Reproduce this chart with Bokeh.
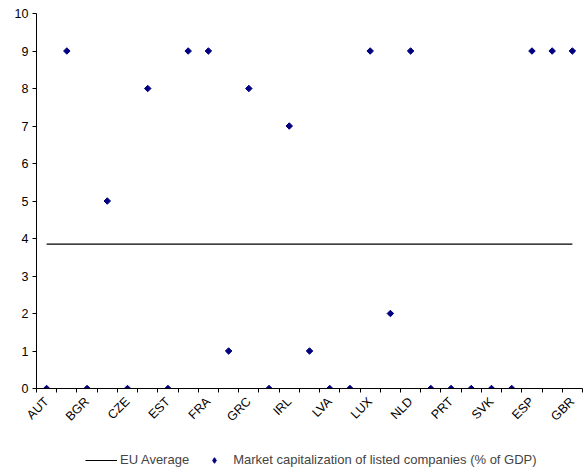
import math
from bokeh.plotting import figure
from bokeh.layouts import column
from bokeh.models import FixedTicker, Legend, LegendItem, Range1d
from bokeh.embed import file_html
from bokeh.resources import INLINE

countries = ["AUT", "BEL", "BGR", "CYP", "CZE", "DNK", "EST", "FIN", "FRA", "DEU",
             "GRC", "HUN", "IRL", "ITA", "LVA", "LTU", "LUX", "MLT", "NLD", "POL",
             "PRT", "ROU", "SVK", "SVN", "ESP", "SWE", "GBR"]
market_cap = [0, 9, 0, 5, 0, 8, 0, 9, 9, 1,
              8, 0, 7, 1, 0, 0, 9, 2, 9, 0,
              0, 0, 0, 0, 9, 9, 9]
eu_average = [3.85, 3.85]
y_ticks = list(range(0, 11))

n = len(countries)
xs = [i + 0.5 for i in range(n)]
FONT = "Liberation Sans"
NAVY = "#000080"

p = figure(width=588, height=436, output_backend="svg", toolbar_location=None,
           x_range=Range1d(0, n), y_range=Range1d(0, 10),
           min_border_left=36, min_border_right=6, min_border_top=13, min_border_bottom=48)
p.outline_line_color = None
p.grid.visible = False

p.line(x=[xs[0], xs[-1]], y=eu_average, line_color="black", line_width=1.2)
p.scatter(x=xs, y=market_cap, marker="square", angle=math.pi / 4, size=4.6,
          fill_color=NAVY, line_color=NAVY, line_width=1)

# x axis
label_pos = [xs[i] for i in range(0, n, 2)]
p.xaxis.ticker = FixedTicker(ticks=label_pos, minor_ticks=list(range(0, n + 1)))
p.xaxis.major_label_overrides = {xs[i]: countries[i] for i in range(0, n, 2)}
p.xaxis.major_label_orientation = math.pi / 4
p.xaxis.major_tick_out = 0
p.xaxis.major_tick_in = 0
p.xaxis.minor_tick_out = 4
p.xaxis.minor_tick_in = 0
p.xaxis.axis_line_color = "black"
p.xaxis.minor_tick_line_color = "black"
p.xaxis.major_label_text_font = FONT
p.xaxis.major_label_text_font_size = "12.5px"
p.xaxis.major_label_text_color = "black"
p.xaxis.major_label_standoff = 7

# y axis
p.yaxis.ticker = FixedTicker(ticks=y_ticks)
p.yaxis.major_tick_out = 4
p.yaxis.major_tick_in = 0
p.yaxis.minor_tick_line_color = None
p.yaxis.axis_line_color = "black"
p.yaxis.major_tick_line_color = "black"
p.yaxis.major_label_text_font = FONT
p.yaxis.major_label_text_font_size = "12.5px"
p.yaxis.major_label_text_color = "black"
p.yaxis.major_label_standoff = 4

# legend strip
lg = figure(width=588, height=37, output_backend="svg", toolbar_location=None,
            x_range=Range1d(100, 101), y_range=Range1d(100, 101),
            min_border=0, min_border_left=0, min_border_right=0,
            min_border_top=0, min_border_bottom=0)
lg.outline_line_color = None
lg.axis.visible = False
lg.grid.visible = False
l1 = lg.line(x=[xs[0], xs[-1]], y=eu_average, line_color="black", line_width=1.2)
l2 = lg.scatter(x=xs, y=market_cap, marker="diamond", size=9,
                fill_color=NAVY, line_color=NAVY, line_width=1)
legend = Legend(items=[LegendItem(label="EU Average", renderers=[l1]),
                       LegendItem(label="Market capitalization of listed companies (% of GDP)", renderers=[l2])],
                orientation="horizontal", location=(49, 6),
                glyph_width=32, glyph_height=14, label_standoff=3, spacing=9,
                label_height=14,
                label_text_font=FONT, label_text_font_size="13px",
                border_line_color=None, background_fill_alpha=0,
                margin=0, padding=0)
lg.add_layout(legend, "center")

layout = column(p, lg, spacing=0)
open("out.html", "w").write(file_html(layout, INLINE))
